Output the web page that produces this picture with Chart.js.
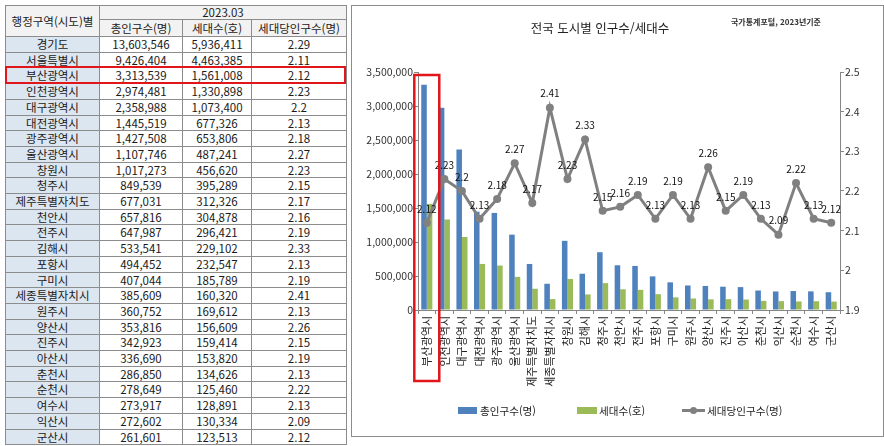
<!DOCTYPE html>
<html lang="ko">
<head>
<meta charset="utf-8">
<script src="https://cdn.jsdelivr.net/npm/chart.js@4.4.1/dist/chart.umd.min.js"></script>
<style>
  body { margin:0; width:884px; height:446px; background:#fff; position:relative; overflow:hidden;
         font-family:"Noto Sans CJK KR", "Noto Sans", sans-serif; color:#1a1a1a; }
  .cell { position:absolute; box-sizing:border-box; border:1px solid #8c8c8c; text-align:center;
          white-space:nowrap; overflow:hidden; font-size:11.5px; }
  .head { background:#f2f2f2; }
  .name { background:#dce6f1; }
  #tblMark { position:absolute; left:5px; top:66px; width:341px; height:18px; box-sizing:border-box;
             border:2px solid #e0161b; }
  #chartBox { position:absolute; left:351px; top:5px; width:533px; height:432px; box-sizing:border-box;
              border:1px solid #8c8c8c; }
  #c { position:absolute; left:0; top:0; }
  .title { position:absolute; left:500px; width:200px; top:18px; text-align:center; font-size:12.5px; color:#222; }
  .source { position:absolute; left:731px; top:16px; font-size:8px; font-weight:bold; color:#333; white-space:nowrap; }
  .lg { position:absolute; font-size:10.6px; color:#222; top:403px; line-height:15px; white-space:nowrap; }
  .lgbox { position:absolute; top:407px; height:7px; }
</style>
</head>
<body>

<div id="table"></div>
<div id="tblMark"></div>

<div id="chartBox">
  <canvas id="c" width="531" height="430"></canvas>
</div>
<div class="title">전국 도시별 인구수/세대수</div>
<div class="source">국가통계포털, 2023년기준</div>

<div class="lgbox" style="left:458px;width:19px;background:#4f81bd"></div>
<div class="lg" style="left:480px">총인구수(명)</div>
<div class="lgbox" style="left:577px;width:20px;background:#9bbb59"></div>
<div class="lg" style="left:599px">세대수(호)</div>
<div style="position:absolute;left:682px;top:409px;width:23px;height:3px;background:#808080"></div>
<div style="position:absolute;left:690px;top:407px;width:7px;height:7px;border-radius:50%;background:#808080"></div>
<div class="lg" style="left:707px">세대당인구수(명)</div>

<script>
/*
-------------------------------------
/// data
-------------------------------------
*/
const tableNames = ['경기도', '서울특별시', '부산광역시', '인천광역시', '대구광역시', '대전광역시', '광주광역시',
  '울산광역시', '창원시', '청주시', '제주특별자치도', '천안시', '전주시', '김해시', '포항시', '구미시',
  '세종특별자치시', '원주시', '양산시', '진주시', '아산시', '춘천시', '순천시', '여수시', '익산시', '군산시'];
const tablePop = [13603546, 9426404, 3313539, 2974481, 2358988, 1445519, 1427508,
  1107746, 1017273, 849539, 677031, 657816, 647987, 533541, 494452, 407044,
  385609, 360752, 353816, 342923, 336690, 286850, 278649, 273917, 272602, 261601];
const tableHouse = [5936411, 4463385, 1561008, 1330898, 1073400, 677326, 653806,
  487241, 456620, 395289, 312326, 304878, 296421, 229102, 232547, 185789,
  160320, 169612, 156609, 159414, 153820, 134626, 125460, 128891, 130334, 123513];
const tableRatio = [2.29, 2.11, 2.12, 2.23, 2.2, 2.13, 2.18,
  2.27, 2.23, 2.15, 2.17, 2.16, 2.19, 2.33, 2.13, 2.19,
  2.41, 2.13, 2.26, 2.15, 2.19, 2.13, 2.22, 2.13, 2.09, 2.12];

// order of the categories in the chart
const chartNames = ['부산광역시', '인천광역시', '대구광역시', '대전광역시', '광주광역시', '울산광역시',
  '제주특별자치도', '세종특별자치시', '창원시', '김해시', '청주시', '천안시', '전주시', '포항시', '구미시',
  '원주시', '양산시', '진주시', '아산시', '춘천시', '익산시', '순천시', '여수시', '군산시'];

const leftTicks = [0, 500000, 1000000, 1500000, 2000000, 2500000, 3000000, 3500000];
const rightTicks = [1.9, 2, 2.1, 2.2, 2.3, 2.4, 2.5];

const popValues = chartNames.map(n => tablePop[tableNames.indexOf(n)]);
const houseValues = chartNames.map(n => tableHouse[tableNames.indexOf(n)]);
const ratioValues = chartNames.map(n => tableRatio[tableNames.indexOf(n)]);

/*
-------------------------------------
/// table
-------------------------------------
*/
const colX = [5, 99, 182, 251, 346];
const tbl = document.getElementById('table');

function cell(x1, x2, y1, y2, text, cls) {
  let d = document.createElement('div');
  d.className = 'cell ' + (cls || '');
  d.style.left = x1 + 'px';
  d.style.top = y1 + 'px';
  d.style.width = (x2 - x1 + 1) + 'px';
  d.style.height = (y2 - y1 + 1) + 'px';
  d.style.lineHeight = (y2 - y1 - 1) + 'px';
  d.textContent = text;
  tbl.appendChild(d);
}

cell(colX[0], colX[1], 5, 36, '행정구역(시도)별', 'head');
cell(colX[1], colX[4], 5, 19, '2023.03', 'head');
cell(colX[1], colX[2], 19, 36, '총인구수(명)', 'head');
cell(colX[2], colX[3], 19, 36, '세대수(호)', 'head');
cell(colX[3], colX[4], 19, 36, '세대당인구수(명)', 'head');

const rowH = 15.7;
tableNames.forEach((n, i) => {
  let y1 = Math.round(36 + i * rowH), y2 = Math.round(36 + (i + 1) * rowH);
  cell(colX[0], colX[1], y1, y2, n, 'name');
  cell(colX[1], colX[2], y1, y2, tablePop[i].toLocaleString('en-US'));
  cell(colX[2], colX[3], y1, y2, tableHouse[i].toLocaleString('en-US'));
  cell(colX[3], colX[4], y1, y2, String(tableRatio[i]));
});

/*
-------------------------------------
/// chart
-------------------------------------
*/
Chart.defaults.font.family = '"Noto Sans CJK KR", "Noto Sans", sans-serif';
Chart.defaults.color = '#222';

const axisColor = '#868686';

// value labels above the line points
const pointLabels = {
  id: 'pointLabels',
  afterDatasetsDraw(chart) {
    const meta = chart.getDatasetMeta(0);
    const ctx = chart.ctx;
    ctx.save();
    ctx.font = '10px "Noto Sans CJK KR"';
    ctx.fillStyle = '#111';
    ctx.textAlign = 'center';
    ctx.textBaseline = 'middle';
    meta.data.forEach((pt, i) => {
      ctx.fillText(String(ratioValues[i]), pt.x, pt.y - 14);
    });
    ctx.restore();
  }
};

// red frame around the first category
const markFirst = {
  id: 'markFirst',
  afterDraw(chart) {
    const xs = chart.scales.x;
    const cx = xs.getPixelForValue(0);
    const half = xs.width / chartNames.length * 0.71;
    const top = chart.scales.y.getPixelForValue(leftTicks[leftTicks.length - 1]) + 3;
    const bottom = chart.height - 55;
    const ctx = chart.ctx;
    ctx.save();
    ctx.strokeStyle = '#e0161b';
    ctx.lineWidth = 2.5;
    ctx.strokeRect(cx - half, top, half * 2, bottom - top);
    ctx.restore();
  }
};

new Chart(document.getElementById('c'), {
  data: {
    labels: chartNames,
    datasets: [
      {
        type: 'line',
        label: '세대당인구수(명)',
        data: ratioValues,
        yAxisID: 'y1',
        borderColor: '#808080',
        backgroundColor: '#808080',
        borderWidth: 3,
        pointRadius: 4,
        pointBorderWidth: 0,
        pointBackgroundColor: '#808080',
        tension: 0,
        order: 0
      },
      {
        type: 'bar',
        label: '총인구수(명)',
        data: popValues,
        yAxisID: 'y',
        backgroundColor: '#4f81bd',
        categoryPercentage: 0.63,
        barPercentage: 1,
        order: 1
      },
      {
        type: 'bar',
        label: '세대수(호)',
        data: houseValues,
        yAxisID: 'y',
        backgroundColor: '#9bbb59',
        categoryPercentage: 0.63,
        barPercentage: 1,
        order: 1
      }
    ]
  },
  options: {
    responsive: false,
    animation: false,
    devicePixelRatio: 1,
    layout: { padding: { top: 66, left: 0, right: 0, bottom: 0 } },
    plugins: { legend: { display: false }, tooltip: { enabled: false } },
    scales: {
      x: {
        offset: true,
        grid: { offset: true, drawOnChartArea: false, tickLength: 4, color: axisColor },
        border: { color: axisColor },
        ticks: { autoSkip: false, minRotation: 90, maxRotation: 90, padding: 2, font: { size: 11 } },
        afterFit(s) { s.height = 126; }
      },
      y: {
        position: 'left',
        min: 0,
        max: 3500000,
        afterBuildTicks(s) { s.ticks = leftTicks.map(v => ({ value: v })); },
        grid: { drawOnChartArea: false, tickLength: 4, color: axisColor },
        border: { color: axisColor },
        ticks: { padding: 1, color: '#333', font: { size: 10.5 }, callback: v => v.toLocaleString('en-US') },
        afterFit(s) { s.width = 66; }
      },
      y1: {
        position: 'right',
        min: 1.9,
        max: 2.5,
        afterBuildTicks(s) { s.ticks = rightTicks.map(v => ({ value: v })); },
        grid: { drawOnChartArea: false, tickLength: 4, color: axisColor },
        border: { color: axisColor },
        ticks: { padding: 1, color: '#333', font: { size: 10.5 }, callback: v => String(+v.toFixed(2)) },
        afterFit(s) { s.width = 43; }
      }
    }
  },
  plugins: [pointLabels, markFirst]
});
</script>
</body>
</html>
